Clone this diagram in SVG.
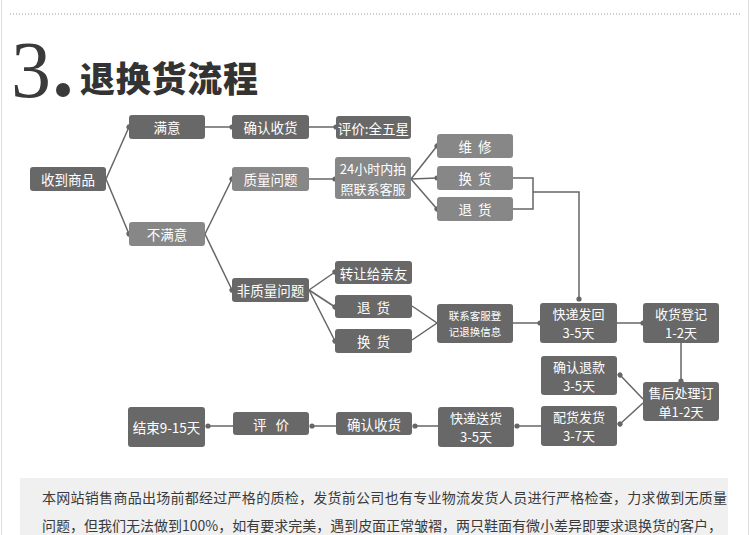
<svg xmlns="http://www.w3.org/2000/svg" width="750" height="535" viewBox="0 0 750 535">
<defs>
<style>
.n rect{fill:#686868;}
.l rect{fill:#878787;}
.n text,.l text{fill:#fff;font-family:"Noto Sans CJK SC","Noto Sans",sans-serif;font-size:13.5px;text-anchor:middle;dominant-baseline:central;}
.n text.t,.l text.t{font-size:13px;}
.n text.s{font-size:10.5px;}
.c path{fill:none;stroke:#666;stroke-width:1.5;}
.d{marker-end:url(#dot);}
</style>
<marker id="dot" markerUnits="userSpaceOnUse" markerWidth="8" markerHeight="8" viewBox="-4 -4 8 8" refX="0" refY="0" orient="auto"><circle r="2.6" fill="#666"/></marker>
</defs>
<rect x="0" y="0" width="750" height="535" fill="#fff"/>
<line x1="1.5" y1="0" x2="1.5" y2="535" stroke="#ddd" stroke-width="1"/>
<line x1="748.5" y1="0" x2="748.5" y2="535" stroke="#ddd" stroke-width="1"/>
<line x1="10" y1="14" x2="742" y2="14" stroke="#999" stroke-width="1" stroke-dasharray="1,2"/>
<g id="title">
<text x="11" y="97" font-family="Liberation Serif,serif" font-size="80" fill="#3a3a3a">3</text>
<circle cx="63" cy="90" r="7" fill="#3a3a3a"/>
<text x="80" y="92" font-family="Noto Sans CJK SC,sans-serif" font-weight="900" font-size="35" fill="#333" textLength="178">退换货流程</text>
</g>
<g class="c">
<path class="d" d="M106,179 L129,127"/>
<path class="d" d="M106,179 L129,234"/>
<path class="d" d="M205,127 H232"/>
<path class="d" d="M309,127 H336"/>
<path class="d" d="M205,234 L232,179"/>
<path class="d" d="M205,234 L232,290"/>
<path class="d" d="M309,179 H335"/>
<path class="d" d="M411,179 L437,146"/>
<path class="d" d="M411,179 L437,178"/>
<path class="d" d="M411,179 L437,209"/>
<path d="M513,178 H533 V209 H513"/>
<path class="d" d="M533,192 H579 V299"/>
<path class="d" d="M309,290 L335,272"/>
<path class="d" d="M309,290 L335,307"/>
<path class="d" d="M309,290 L335,341"/>
<path d="M412,306 L437,323 L412,340"/>
<path class="d" d="M513,323 H540"/>
<path class="d" d="M617,323 H643"/>
<path class="d" d="M681,343 V381"/>
<path class="d" d="M643,399 L620,375"/>
<path class="d" d="M643,403 L620,424"/>
<path class="d" d="M541,426 H517"/>
<path class="d" d="M438,426 H415"/>
<path class="d" d="M336,426 H312"/>
<path class="d" d="M233,426 H208"/>
</g>
<g id="n1" class="n"><rect x="30" y="167" width="76" height="24" rx="3"/><text x="68" y="179">收到商品</text></g>
<g id="n2" class="n"><rect x="129" y="115" width="76" height="24" rx="3"/><text x="167" y="127">满意</text></g>
<g id="n3" class="l"><rect x="129" y="222" width="76" height="24" rx="3"/><text x="167" y="234">不满意</text></g>
<g id="n4" class="n"><rect x="232" y="115" width="77" height="24" rx="3"/><text x="270.5" y="127">确认收货</text></g>
<g id="n5" class="n"><rect x="336" y="116" width="75" height="23" rx="3"/><text x="373.5" y="127.5">评价:全五星</text></g>
<g id="n6" class="l"><rect x="232" y="167" width="77" height="24" rx="3"/><text x="270.5" y="179">质量问题</text></g>
<g id="n7" class="l"><rect x="335" y="157" width="76" height="42" rx="3"/><text class="t" x="373" y="168.5">24小时内拍</text><text class="t" x="373" y="188">照联系客服</text></g>
<g id="n8" class="l"><rect x="437" y="134" width="76" height="24" rx="3"/><text x="475" y="146" xml:space="preserve">维  修</text></g>
<g id="n9" class="l"><rect x="437" y="166" width="76" height="24" rx="3"/><text x="475" y="178" xml:space="preserve">换  货</text></g>
<g id="n10" class="l"><rect x="437" y="197" width="76" height="24" rx="3"/><text x="475" y="209" xml:space="preserve">退  货</text></g>
<g id="n11" class="n"><rect x="232" y="278" width="77" height="24" rx="3"/><text x="270.5" y="290">非质量问题</text></g>
<g id="n12" class="n"><rect x="335" y="261" width="77" height="23" rx="3"/><text x="373.5" y="272.5">转让给亲友</text></g>
<g id="n13" class="n"><rect x="335" y="295" width="77" height="23" rx="3"/><text x="373.5" y="306.5" xml:space="preserve">退  货</text></g>
<g id="n14" class="n"><rect x="335" y="329" width="77" height="24" rx="3"/><text x="373.5" y="341" xml:space="preserve">换  货</text></g>
<g id="n15" class="n"><rect x="437" y="304" width="76" height="39" rx="3"/><text class="s" x="475" y="315.5">联系客服登</text><text class="s" x="475" y="331">记退换信息</text></g>
<g id="n16" class="n"><rect x="540" y="303" width="77" height="40" rx="3"/><text class="t" x="578.5" y="313.5">快递发回</text><text class="t" x="578.5" y="332.5">3-5天</text></g>
<g id="n17" class="n"><rect x="643" y="303" width="76" height="40" rx="3"/><text class="t" x="681" y="313.5">收货登记</text><text class="t" x="681" y="332.5">1-2天</text></g>
<g id="n18" class="n"><rect x="541" y="356" width="76" height="39" rx="3"/><text class="t" x="579" y="366">确认退款</text><text class="t" x="579" y="385">3-5天</text></g>
<g id="n19" class="n"><rect x="643" y="382" width="76" height="39" rx="3"/><text class="t" x="681" y="392">售后处理订</text><text class="t" x="681" y="411">单1-2天</text></g>
<g id="n20" class="n"><rect x="541" y="406" width="76" height="40" rx="3"/><text class="t" x="579" y="416.5">配货发货</text><text class="t" x="579" y="435.5">3-7天</text></g>
<g id="n21" class="n"><rect x="438" y="407" width="76" height="40" rx="3"/><text class="t" x="476" y="417.5">快递送货</text><text class="t" x="476" y="436.5">3-5天</text></g>
<g id="n22" class="n"><rect x="336" y="412" width="76" height="23" rx="3"/><text x="374" y="423.5">确认收货</text></g>
<g id="n23" class="n"><rect x="233" y="412" width="76" height="23" rx="3"/><text x="271" y="423.5" xml:space="preserve">评   价</text></g>
<g id="n24" class="n"><rect x="128" y="407" width="77" height="40" rx="3"/><text x="166.5" y="427">结束9-15天</text></g>
<g id="note">
<rect x="20" y="478" width="708" height="57" fill="#f0f0f0"/>
<text x="42" y="503" font-family="Noto Sans CJK SC,sans-serif" font-size="14" fill="#3a3a3a" textLength="685">本网站销售商品出场前都经过严格的质检，发货前公司也有专业物流发货人员进行严格检查，力求做到无质量</text>
<text x="42" y="531" font-family="Noto Sans CJK SC,sans-serif" font-size="14" fill="#3a3a3a" textLength="680">问题，但我们无法做到100%，如有要求完美，遇到皮面正常皱褶，两只鞋面有微小差异即要求退换货的客户，</text>
</g>
</svg>
